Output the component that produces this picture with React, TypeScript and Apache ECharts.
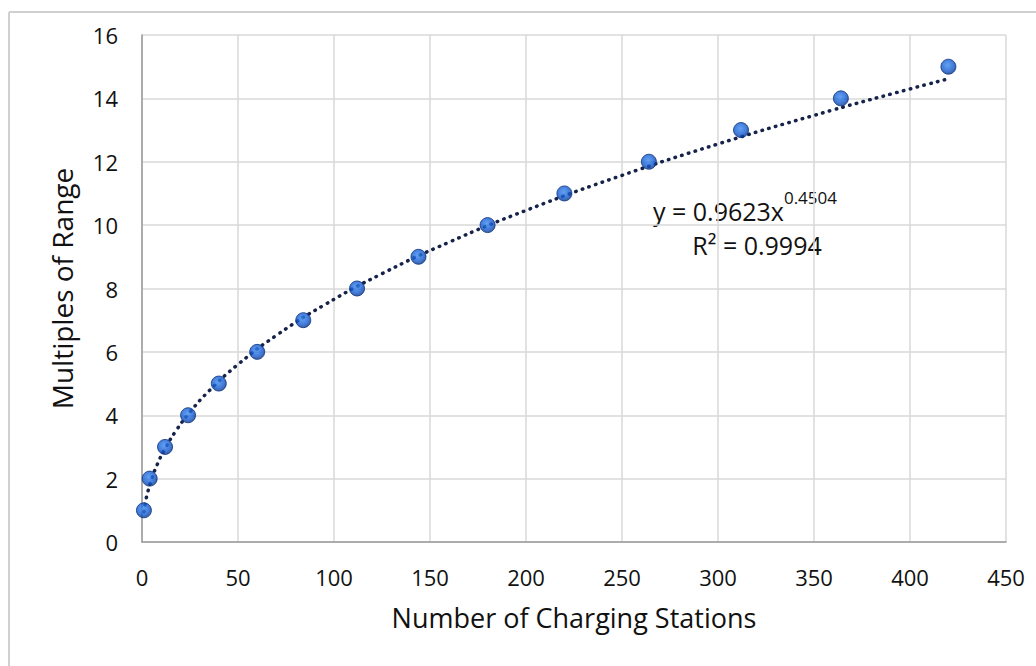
import React, { useEffect, useRef } from "react";
import * as echarts from "echarts";

const stations = [1, 4, 12, 24, 40, 60, 84, 112, 144, 180, 220, 264, 312, 364, 420];
const multiples = [1, 2, 3, 4, 5, 6, 7, 8, 9, 10, 11, 12, 13, 14, 15];
const trendCoef = 0.9623;
const trendExp = 0.4504;
const trendXs = [1, 2, 3, 5, 8, 12, 18, 25, 35, 50, 70, 95, 125, 160, 200, 250, 300, 350, 400, 420];

const FONT = "Open Sans";

export default function App() {
  const ref = useRef<HTMLDivElement>(null);
  useEffect(() => {
    if (!ref.current) return;
    const chart = echarts.init(ref.current, undefined, { renderer: "svg" });
    const trend = trendXs.map((x) => [x, trendCoef * Math.pow(x, trendExp)]);
    chart.setOption({
      animation: false,
      backgroundColor: "#ffffff",
      grid: { left: 142, right: 30, top: 35, bottom: 124 },
      xAxis: {
        type: "value",
        min: 0,
        max: 450,
        interval: 50,
        name: "Number of Charging Stations",
        nameLocation: "middle",
        nameGap: 62,
        nameTextStyle: { fontFamily: FONT, fontSize: 27, color: "#111" },
        axisLine: { show: true, lineStyle: { color: "#9a9a9a", width: 1.5 } },
        axisTick: { show: false },
        axisLabel: { margin: 24, fontFamily: FONT, fontSize: 22, color: "#111" },
        splitLine: { show: true, lineStyle: { color: "#d9d9d9", width: 1.5 } },
      },
      yAxis: {
        type: "value",
        min: 0,
        max: 16,
        interval: 2,
        name: "Multiples of Range",
        nameLocation: "middle",
        nameGap: 66,
        nameTextStyle: { fontFamily: FONT, fontSize: 28, color: "#111" },
        axisLine: { show: true, lineStyle: { color: "#9a9a9a", width: 1.5 } },
        axisTick: { show: false },
        axisLabel: { margin: 24, fontFamily: FONT, fontSize: 22, color: "#111" },
        splitLine: { show: true, lineStyle: { color: "#d9d9d9", width: 1.5 } },
      },
      series: [
        {
          type: "line",
          data: trend,
          smooth: true,
          showSymbol: false,
          z: 2,
          lineStyle: { color: "#15224a", width: 3.5, type: [0.5, 6.5], cap: "round" },
        },
        {
          type: "scatter",
          data: stations.map((x, i) => [x, multiples[i]]),
          symbolSize: 15,
          z: 3,
          itemStyle: {
            color: {
              type: "radial",
              x: 0.45,
              y: 0.4,
              r: 0.6,
              colorStops: [
                { offset: 0, color: "#3a8af2" },
                { offset: 0.65, color: "#155bd0" },
                { offset: 1, color: "#0a368a" },
              ],
            },
            borderColor: "#0b3380",
            borderWidth: 1,
          },
        },
      ],
      graphic: [
        { type: "line", shape: { x1: 9, y1: 12, x2: 1036, y2: 12 }, style: { stroke: "#d0d0d0", lineWidth: 2 } },
        { type: "line", shape: { x1: 9, y1: 12, x2: 9, y2: 666 }, style: { stroke: "#d0d0d0", lineWidth: 2 } },
        {
          type: "text",
          x: 653,
          y: 206,
          style: {
            text: "{m|y = 0.9623x}{s|0.4504}",
            verticalAlign: "middle",
            rich: {
              m: { fontFamily: FONT, fontSize: 25, fill: "#111", lineHeight: 34, verticalAlign: "bottom" },
              s: { fontFamily: FONT, fontSize: 17, fill: "#111", lineHeight: 34, verticalAlign: "top", padding: [0, 0, 10, 0] },
            },
          },
        },
        {
          type: "text",
          x: 757,
          y: 245,
          style: {
            text: "R² = 0.9994",
            align: "center",
            verticalAlign: "middle",
            fontFamily: FONT,
            fontSize: 25,
            fill: "#111",
          },
        },
      ],
    });
    return () => chart.dispose();
  }, []);
  return <div ref={ref} style={{ position: "fixed", left: 0, top: 0, width: 1036, height: 666 }} />;
}
